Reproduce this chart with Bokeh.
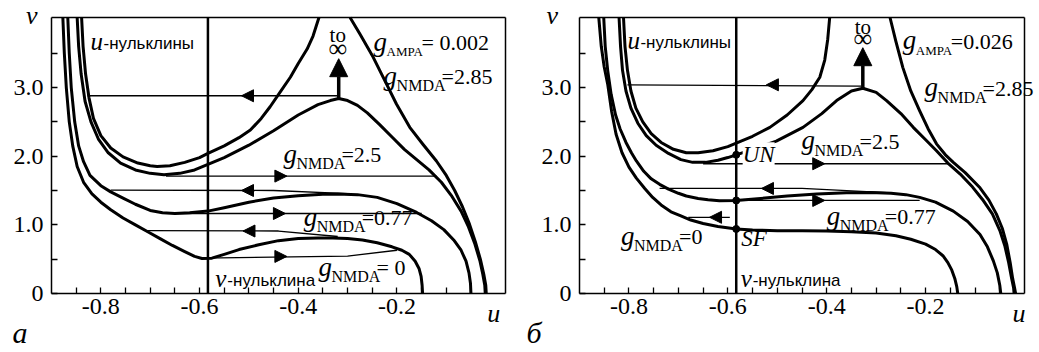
from bokeh.plotting import figure
from bokeh.layouts import row
from bokeh.models import Range1d, FixedTicker, Label, Arrow, NormalHead, LinearAxis
from bokeh.embed import file_html
from bokeh.resources import INLINE

SERIF = "Liberation Serif"
SANS = "Liberation Sans"

# ---------------- axis ticks ----------------
x_tick_vals = [-0.8, -0.6, -0.4, -0.2]
x_tick_labels = ["-0.8", "-0.6", "-0.4", "-0.2"]
x_minor_vals = [-0.85, -0.75, -0.7, -0.65, -0.55, -0.5, -0.45, -0.35, -0.3, -0.25, -0.15, -0.1, -0.05]
y_tick_vals = [0, 1, 2, 3]
y_tick_labels = ["0", "1.0", "2.0", "3.0"]
y_minor_vals = [0.5, 1.5, 2.5, 3.5]

U_LO = -0.9
A_U_HI = 0.02
B_U_HI = 0.0
V_LO = 0.0
V_HI = 4.02

# ---------------- panel a data (u-nullclines) ----------------
a_g0_u = [-0.877, -0.874, -0.870, -0.864, -0.857, -0.848, -0.835, -0.818, -0.800, -0.780,
          -0.755, -0.730, -0.705, -0.680, -0.655, -0.630, -0.610, -0.595, -0.575, -0.550,
          -0.520, -0.480, -0.440, -0.400, -0.360, -0.330, -0.300, -0.270, -0.240, -0.210,
          -0.190, -0.175, -0.163, -0.155, -0.151, -0.149, -0.148]
a_g0_v = [4.02, 3.50, 3.00, 2.50, 2.15, 1.85, 1.62, 1.45, 1.33, 1.22,
          1.10, 1.00, 0.90, 0.80, 0.70, 0.61, 0.54, 0.51, 0.515, 0.57,
          0.64, 0.71, 0.77, 0.80, 0.81, 0.81, 0.80, 0.78, 0.74, 0.68,
          0.63, 0.57, 0.47, 0.36, 0.25, 0.12, 0.0]

a_g077_u = [-0.867, -0.864, -0.860, -0.853, -0.845, -0.835, -0.822, -0.800, -0.780, -0.755,
            -0.730, -0.700, -0.675, -0.650, -0.620, -0.583, -0.550, -0.500, -0.450, -0.400,
            -0.350, -0.320, -0.280, -0.240, -0.200, -0.160, -0.130, -0.105, -0.085, -0.070,
            -0.060, -0.054, -0.051, -0.050]
a_g077_v = [4.02, 3.50, 3.00, 2.50, 2.15, 1.92, 1.72, 1.57, 1.48, 1.39,
            1.30, 1.21, 1.175, 1.165, 1.175, 1.20, 1.25, 1.33, 1.39, 1.425,
            1.445, 1.45, 1.44, 1.40, 1.31, 1.18, 1.06, 0.93, 0.78, 0.63,
            0.47, 0.30, 0.15, 0.0]

a_g25_u = [-0.848, -0.845, -0.840, -0.832, -0.820, -0.805, -0.785, -0.760, -0.730, -0.700,
           -0.672, -0.640, -0.610, -0.583, -0.550, -0.500, -0.450, -0.400, -0.360, -0.335,
           -0.318, -0.300, -0.280, -0.260, -0.235, -0.210, -0.185, -0.160, -0.135, -0.110,
           -0.090, -0.070, -0.055, -0.042, -0.032, -0.026, -0.022, -0.021]
a_g25_v = [4.02, 3.60, 3.20, 2.80, 2.50, 2.25, 2.05, 1.90, 1.80, 1.75,
           1.73, 1.75, 1.80, 1.88, 1.98, 2.16, 2.37, 2.60, 2.75, 2.81,
           2.84, 2.81, 2.74, 2.63, 2.46, 2.28, 2.10, 1.95, 1.80, 1.62,
           1.43, 1.20, 0.97, 0.72, 0.48, 0.28, 0.12, 0.0]

a_g285L_u = [-0.839, -0.836, -0.831, -0.824, -0.815, -0.800, -0.780, -0.755, -0.725, -0.700,
             -0.686, -0.660, -0.630, -0.600, -0.583, -0.550, -0.520, -0.497, -0.475, -0.457,
             -0.435, -0.416, -0.400, -0.382, -0.370, -0.358]
a_g285L_v = [4.02, 3.60, 3.20, 2.85, 2.55, 2.30, 2.12, 1.99, 1.90, 1.86,
             1.85, 1.86, 1.91, 1.98, 2.04, 2.15, 2.27, 2.38, 2.55, 2.72,
             2.95, 3.15, 3.35, 3.56, 3.75, 4.02]
a_g285R_u = [-0.295, -0.275, -0.248, -0.221, -0.201, -0.174, -0.147, -0.120, -0.100, -0.083,
             -0.067, -0.053, -0.041, -0.031, -0.024, -0.020, -0.019]
a_g285R_v = [4.02, 3.78, 3.44, 3.05, 2.76, 2.42, 2.17, 1.93, 1.72, 1.50,
             1.26, 1.01, 0.75, 0.50, 0.28, 0.12, 0.0]

a_vnull_u = -0.583

# trajectories (panel a)
a_traj_u = [[-0.318, -0.827], [-0.668, -0.120], [-0.780, -0.450, -0.300],
            [-0.650, -0.150], [-0.706, -0.440, -0.320], [-0.595, -0.300, -0.200]]
a_traj_v = [[2.88, 2.88], [1.71, 1.71], [1.505, 1.50, 1.455],
            [1.165, 1.165], [0.915, 0.91, 0.83], [0.515, 0.545, 0.63]]
a_arrow_u = [-0.515, -0.423, -0.515, -0.426, -0.512, -0.423]
a_arrow_v = [2.88, 1.71, 1.50, 1.165, 0.91, 0.54]
a_arrow_dir = [-1, 1, -1, 1, -1, 1]
a_inf_u, a_inf_v0, a_inf_v1 = -0.318, 2.84, 3.42

# ---------------- panel b data ----------------
b_g0_u = [-0.861, -0.856, -0.850, -0.843, -0.835, -0.826, -0.814, -0.800, -0.785, -0.768,
          -0.752, -0.735, -0.715, -0.695, -0.675, -0.650, -0.620, -0.583, -0.550, -0.500,
          -0.450, -0.400, -0.350, -0.300, -0.260, -0.230, -0.200, -0.180, -0.165, -0.155,
          -0.147, -0.141, -0.137, -0.135]
b_g0_v = [4.02, 3.60, 3.30, 3.05, 2.65, 2.32, 2.05, 1.84, 1.68, 1.53,
          1.40, 1.29, 1.19, 1.13, 1.07, 1.02, 0.975, 0.94, 0.925, 0.915,
          0.915, 0.912, 0.90, 0.88, 0.84, 0.79, 0.72, 0.64, 0.55, 0.45,
          0.34, 0.22, 0.10, 0.0]

b_g077_u = [-0.851, -0.848, -0.843, -0.836, -0.827, -0.818, -0.806, -0.795, -0.785, -0.770,
            -0.755, -0.738, -0.720, -0.700, -0.684, -0.660, -0.640, -0.617, -0.583, -0.540,
            -0.480, -0.420, -0.360, -0.313, -0.270, -0.240, -0.212, -0.180, -0.144, -0.115,
            -0.090, -0.075, -0.063, -0.055, -0.050, -0.048]
b_g077_v = [4.02, 3.60, 3.25, 2.90, 2.60, 2.40, 2.20, 2.05, 1.93, 1.78,
            1.67, 1.59, 1.52, 1.46, 1.42, 1.385, 1.365, 1.352, 1.355, 1.38,
            1.42, 1.45, 1.467, 1.47, 1.46, 1.44, 1.40, 1.33, 1.20, 1.05,
            0.86, 0.68, 0.475, 0.30, 0.12, 0.0]

b_g25_u = [-0.820, -0.817, -0.813, -0.806, -0.796, -0.782, -0.765, -0.745, -0.720, -0.695,
           -0.671, -0.645, -0.620, -0.600, -0.583, -0.550, -0.502, -0.448, -0.410, -0.380,
           -0.350, -0.327, -0.300, -0.279, -0.250, -0.225, -0.200, -0.178, -0.155, -0.130,
           -0.105, -0.085, -0.065, -0.050, -0.040, -0.032, -0.026, -0.022, -0.021]
b_g25_v = [4.02, 3.60, 3.25, 2.95, 2.70, 2.48, 2.30, 2.16, 2.04, 1.95,
           1.91, 1.91, 1.94, 1.98, 2.02, 2.10, 2.22, 2.42, 2.62, 2.81,
           2.95, 2.99, 2.93, 2.81, 2.62, 2.42, 2.24, 2.08, 1.90, 1.74,
           1.55, 1.37, 1.16, 0.92, 0.70, 0.45, 0.22, 0.08, 0.0]

b_g285L_u = [-0.811, -0.808, -0.803, -0.796, -0.786, -0.772, -0.755, -0.735, -0.710, -0.684,
             -0.660, -0.630, -0.600, -0.583, -0.550, -0.515, -0.480, -0.448, -0.430, -0.414,
             -0.404, -0.398, -0.394]
b_g285L_v = [4.02, 3.60, 3.25, 2.95, 2.70, 2.50, 2.33, 2.20, 2.10, 2.05,
             2.05, 2.08, 2.14, 2.19, 2.29, 2.42, 2.60, 2.81, 2.97, 3.15,
             3.40, 3.70, 4.02]
b_g285R_u = [-0.272, -0.260, -0.246, -0.230, -0.212, -0.195, -0.178, -0.160, -0.144, -0.120,
             -0.090, -0.072, -0.057, -0.045, -0.036, -0.029, -0.024, -0.020, -0.018]
b_g285R_v = [4.02, 3.67, 3.29, 2.95, 2.66, 2.40, 2.18, 2.02, 1.91, 1.76,
             1.54, 1.36, 1.16, 0.95, 0.72, 0.45, 0.22, 0.08, 0.0]

b_vnull_u = -0.583

b_traj_u = [[-0.330, -0.803], [-0.650, -0.151], [-0.738, -0.450, -0.279],
            [-0.583, -0.212], [-0.596, -0.680]]
b_traj_v = [[3.02, 3.04], [1.89, 1.89], [1.53, 1.53, 1.47],
            [1.355, 1.355], [1.11, 1.11]]
b_arrow_u = [-0.522, -0.404, -0.532, -0.404, -0.637]
b_arrow_v = [3.04, 1.89, 1.53, 1.355, 1.11]
b_arrow_dir = [-1, 1, -1, 1, -1]
b_inf_u, b_inf_v0, b_inf_v1 = -0.327, 2.99, 3.58

b_dot_u = [-0.583, -0.583, -0.583]
b_dot_v = [0.94, 1.355, 2.02]

# ---------------- layout constants (pixels) ----------------
H = 352
MT, MB = 17, 59
BASE_SHIFT = 0.27   # lift (in em) so that the alphabetic baseline lands on the anchor


def style_axis(ax):
    ax.major_tick_in = 6
    ax.major_tick_out = 0
    ax.minor_tick_in = 6
    ax.minor_tick_out = 0
    ax.major_tick_line_width = 1.3
    ax.minor_tick_line_width = 1.3
    ax.axis_line_width = 1.5
    ax.major_tick_line_color = "black"
    ax.minor_tick_line_color = "black"
    ax.axis_line_color = "black"
    ax.major_label_text_font = SERIF
    ax.major_label_text_font_style = "normal"
    ax.major_label_text_font_size = "24px"
    ax.major_label_text_color = "black"


def make_fig(u_hi, width, ml, mr):
    kx = (width - ml - mr) / (u_hi - U_LO)
    ky = (H - MT - MB) / (V_HI - V_LO)
    xr = Range1d(U_LO - ml / kx, u_hi + mr / kx)
    yr = Range1d(V_LO - MB / ky, V_HI + MT / ky)
    p = figure(output_backend="svg", toolbar_location=None, width=width, height=H,
               min_border=0, x_range=xr, y_range=yr)
    p.grid.visible = False
    p.background_fill_color = "white"
    p.border_fill_color = "white"
    p.outline_line_color = None

    xa = p.xaxis[0]
    ya = p.yaxis[0]
    xa.fixed_location = V_LO
    xa.bounds = (U_LO, u_hi)
    ya.fixed_location = U_LO
    ya.bounds = (V_LO, V_HI)
    xa.ticker = FixedTicker(ticks=x_tick_vals, minor_ticks=x_minor_vals)
    ya.ticker = FixedTicker(ticks=y_tick_vals, minor_ticks=y_minor_vals)
    xa.major_label_overrides = dict(zip(x_tick_vals, x_tick_labels))
    ya.major_label_overrides = dict(zip(y_tick_vals, y_tick_labels))
    style_axis(xa)
    style_axis(ya)
    ya.major_label_standoff = 8
    xa.major_label_standoff = 5

    # frame box: top and right edges as plain axes without ticks
    top = LinearAxis(fixed_location=V_HI, bounds=(U_LO, u_hi), ticker=FixedTicker(ticks=[]))
    right = LinearAxis(fixed_location=u_hi, bounds=(V_LO, V_HI), ticker=FixedTicker(ticks=[]))
    for ax in (top, right):
        style_axis(ax)
        ax.major_tick_in = 0
        ax.minor_tick_in = 0
    p.add_layout(top, "above")
    p.add_layout(right, "right")
    return p


def txt(p, u, v, s, font=SERIF, size=22, style="normal", align="left", dx=0, dy=0, bg=None):
    lab = Label(x=u, y=v, text=s, text_font=font, text_font_size=f"{size}px",
                text_font_style=style, text_align=align, text_baseline="alphabetic",
                x_offset=dx, y_offset=dy + round(BASE_SHIFT * size), text_color="black")
    if bg:
        lab.background_fill_color = bg
    p.add_layout(lab)


def g_label(p, u, v, sub, rest, sub_size=16, sub_w=48):
    txt(p, u, v, "g", size=27, style="italic")
    txt(p, u, v, sub, size=sub_size, dx=13, dy=-7)
    txt(p, u, v, rest, size=22, dx=13 + sub_w - 3)


def draw_panel(p, curves, vnull_u, traj_u, traj_v, ar_u, ar_v, ar_d, inf_u, inf_v0, inf_v1):
    for cu, cv in curves:
        p.line(cu, cv, line_width=3, line_color="black", line_join="round")
    p.segment(x0=[vnull_u], y0=[V_LO], x1=[vnull_u], y1=[V_HI], line_color="black", line_width=2.5)
    p.multi_line(traj_u, traj_v, line_width=1.3, line_color="black")
    for u, v, d in zip(ar_u, ar_v, ar_d):
        p.add_layout(Arrow(end=NormalHead(size=12, fill_color="black", line_color="black", line_width=1),
                           x_start=u - d * 0.03, y_start=v, x_end=u, y_end=v, line_alpha=0))
    p.add_layout(Arrow(end=NormalHead(size=18, fill_color="black", line_color="black", line_width=1),
                       x_start=inf_u, y_start=inf_v0, x_end=inf_u, y_end=inf_v1,
                       line_width=3.5, line_color="black"))


# ---------------- panel a ----------------
pa = make_fig(A_U_HI, 519, 51, 14)
draw_panel(pa, [(a_g0_u, a_g0_v), (a_g077_u, a_g077_v), (a_g25_u, a_g25_v),
                (a_g285L_u, a_g285L_v), (a_g285R_u, a_g285R_v)],
           a_vnull_u, a_traj_u, a_traj_v, a_arrow_u, a_arrow_v, a_arrow_dir,
           a_inf_u, a_inf_v0, a_inf_v1)
txt(pa, -0.821, 3.566, "u", size=25, style="italic")
txt(pa, -0.821, 3.566, "-нульклины", font=SANS, size=17, dx=13)
txt(pa, -0.568, 0.111, "v", size=25, style="italic")
txt(pa, -0.568, 0.111, "-нульклина", font=SANS, size=17, dx=12)
txt(pa, -0.32, 3.68, "to", size=21, align="center")
txt(pa, -0.32, 3.47, "∞", size=26, align="center")
g_label(pa, -0.2475, 3.566, "AMPA", "= 0.002", sub_size=13, sub_w=38)
g_label(pa, -0.227, 3.07, "NMDA", "=2.85")
g_label(pa, -0.430, 1.933, "NMDA", "=2.5")
g_label(pa, -0.389, 1.015, "NMDA", "=0.77")
g_label(pa, -0.359, 0.286, "NMDA", "= 0")
txt(pa, -0.004, -0.40, "u", size=26, style="italic", align="center")
txt(pa, -0.94, 3.945, "v", size=26, style="italic", align="center")
txt(pa, -0.979, -0.68, "а", size=30, style="italic")

# ---------------- panel b ----------------
pb = make_fig(B_U_HI, 520, 60, 15)
draw_panel(pb, [(b_g0_u, b_g0_v), (b_g077_u, b_g077_v), (b_g25_u, b_g25_v),
                (b_g285L_u, b_g285L_v), (b_g285R_u, b_g285R_v)],
           b_vnull_u, b_traj_u, b_traj_v, b_arrow_u, b_arrow_v, b_arrow_dir,
           b_inf_u, b_inf_v0, b_inf_v1)
pb.scatter(b_dot_u, b_dot_v, size=7, color="black")
txt(pb, -0.803, 3.585, "u", size=25, style="italic")
txt(pb, -0.803, 3.585, "-нульклины", font=SANS, size=17, dx=13)
txt(pb, -0.574, 0.11, "v", size=25, style="italic")
txt(pb, -0.574, 0.11, "-нульклина", font=SANS, size=17, dx=12)
txt(pb, -0.327, 3.80, "to", size=21, align="center")
txt(pb, -0.327, 3.61, "∞", size=26, align="center")
g_label(pb, -0.246, 3.585, "AMPA", "=0.026", sub_size=13, sub_w=38)
g_label(pb, -0.202, 2.905, "NMDA", "=2.85")
g_label(pb, -0.451, 2.127, "NMDA", "=2.5")
g_label(pb, -0.400, 1.034, "NMDA", "=0.77")
g_label(pb, -0.816, 0.742, "NMDA", "=0")
txt(pb, -0.570, 1.933, "UN", size=23, style="italic", bg="white")
txt(pb, -0.573, 0.719, "SF", size=23, style="italic")
txt(pb, -0.011, -0.40, "u", size=26, style="italic", align="center")
txt(pb, -0.955, 3.94, "v", size=26, style="italic", align="center")
txt(pb, -1.007, -0.68, "б", size=30, style="italic")

layout = row(pa, pb)
open("out.html", "w").write(file_html(layout, INLINE, "Фазовые портреты"))
